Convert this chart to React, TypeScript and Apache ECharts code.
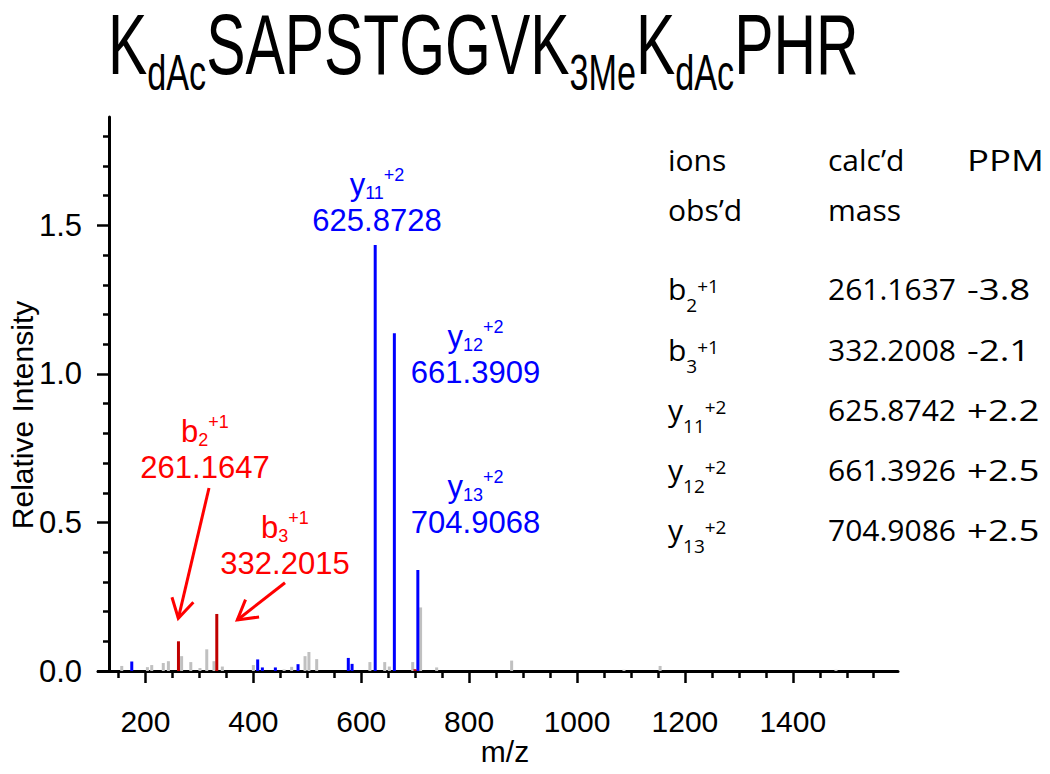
import React, { useEffect, useRef } from "react";
import * as echarts from "echarts";

// ---- data ----
const grayPeaks: [number, number][] = [
  [156, 0.017], [203.6, 0.013], [211.6, 0.02], [233, 0.027], [242.5, 0.033],
  [267, 0.05], [284, 0.03], [301, 0.01], [313.6, 0.073], [327, 0.033],
  [342.5, 0.015], [400, 0.02], [457, 0.005], [471, 0.014], [495.8, 0.05],
  [503, 0.064], [517.4, 0.04], [616, 0.03], [643.5, 0.03], [652, 0.015],
  [695.4, 0.03], [710, 0.214], [739.8, 0.012], [878.8, 0.035], [1087, 0.004],
  [1154, 0.017], [1480, 0.004],
];
const bluePeaks: [number, number][] = [
  [174.6, 0.032], [408, 0.039], [416.7, 0.012], [440.8, 0.012], [482.8, 0.023],
  [576, 0.044], [583, 0.024], [625.87, 1.434], [661.39, 1.137], [704.91, 0.34],
];
const redPeaks: [number, number][] = [
  [261.16, 0.1], [332.2, 0.192], [699.6, 0.006],
];

const xMajorTicks = [200, 400, 600, 800, 1000, 1200, 1400];
const xMinorTicks = [150, 250, 300, 350, 450, 500, 550, 650, 700, 750, 850, 900, 950, 1050, 1100, 1150, 1250, 1300, 1350, 1450, 1500, 1550];
const yMajorTicks = [0, 0.5, 1.0, 1.5];
const yMinorTicks = [0.1, 0.2, 0.3, 0.4, 0.6, 0.7, 0.8, 0.9, 1.1, 1.2, 1.3, 1.4, 1.6, 1.7, 1.8];

// title pieces: text and whether it is a subscript
const titlePieces = ["K", "dAc", "SAPSTGGVK", "3Me", "K", "dAc", "PHR"];
const titleIsSub = [false, true, false, true, false, true, false];

const tableHeader1 = ["ions", "calc\u2019d", "PPM"];
const tableHeader2 = ["obs\u2019d", "mass", ""];
const tableIon = ["b", "b", "y", "y", "y"];
const tableIonSub = ["2", "3", "11", "12", "13"];
const tableIonSup = ["+1", "+1", "+2", "+2", "+2"];
const tableCalc = ["261.1637", "332.2008", "625.8742", "661.3926", "704.9086"];
const tablePpm = ["-3.8", "-2.1", "+2.2", "+2.5", "+2.5"];

const annIon = ["y", "y", "y", "b", "b"];
const annSub = ["11", "12", "13", "2", "3"];
const annSup = ["+2", "+2", "+2", "+1", "+1"];
const annMz = ["625.8728", "661.3909", "704.9068", "261.1647", "332.2015"];

const BLUE = "#0000ff";
const RED_TEXT = "#ff0000";
const RED_PEAK = "#c00000";
const GRAY = "#c0c0c0";
const ARIAL = "'Liberation Sans', Arial, Helvetica, sans-serif";
const CALIBRI = "'Open Sans', 'Noto Sans', sans-serif";

// annotation layout (pixel positions of label centres / baselines)
const annCx = [377, 475.5, 475.5, 205, 285];
const annBase = [231, 383, 533, 478, 574];
const annColor = [BLUE, BLUE, BLUE, RED_TEXT, RED_TEXT];

// table layout
const colX = [668, 828, 967];
const headBase = [171, 221];
const rowBase = [300, 361, 421, 481, 541];

function peakSeries(name: string, data: [number, number][], color: string, z: number) {
  return {
    type: "custom",
    name,
    z,
    data,
    encode: { x: 0, y: 1 },
    renderItem: (params: any, api: any) => {
      const x = api.value(0);
      const y = api.value(1);
      const top = api.coord([x, y]);
      const base = api.coord([x, 0]);
      const w = 3;
      return {
        type: "rect",
        shape: { x: top[0] - w / 2, y: top[1], width: w, height: base[1] - top[1] },
        style: { fill: color },
      };
    },
  };
}

function arrow(start: [number, number], tip: [number, number], color: string) {
  const dx = start[0] - tip[0];
  const dy = start[1] - tip[1];
  const len = Math.sqrt(dx * dx + dy * dy);
  const ux = dx / len, uy = dy / len;
  const L = 22, a = (30 * Math.PI) / 180;
  const rot = (ang: number) => [
    tip[0] + L * (ux * Math.cos(ang) - uy * Math.sin(ang)),
    tip[1] + L * (ux * Math.sin(ang) + uy * Math.cos(ang)),
  ];
  return [
    { type: "line", shape: { x1: start[0], y1: start[1], x2: tip[0], y2: tip[1] }, style: { stroke: color, lineWidth: 3 } },
    { type: "polyline", shape: { points: [rot(a), tip, rot(-a)] }, style: { stroke: color, lineWidth: 3, fill: null } },
  ];
}

function measure(text: string, size: number, family: string): number {
  const ctx = document.createElement("canvas").getContext("2d");
  if (!ctx) return text.length * size * 0.6;
  ctx.font = `${size}px ${family}`;
  return ctx.measureText(text).width;
}

export default function App() {
  const ref = useRef<HTMLDivElement>(null);
  useEffect(() => {
    if (!ref.current) return;
    const chart = echarts.init(ref.current, null, { renderer: "svg" });

    const graphics: any[] = [];
    // title, built piece by piece (main letters + subscripts), condensed look via vertical stretch
    const TSY = 1.46;
    let cx = 108;
    titlePieces.forEach((t, i) => {
      const size = titleIsSub[i] ? 34.2 : 58.9;
      graphics.push({
        type: "text",
        x: cx,
        y: titleIsSub[i] ? 72.5 : 44,
        scaleY: TSY,
        style: { text: t, fontSize: size, fontFamily: ARIAL, fill: "#000", align: "left", verticalAlign: "middle" },
      });
      cx += measure(t, size, ARIAL);
    });
    // axis names
    graphics.push({
      type: "text", x: 22, y: 415, rotation: Math.PI / 2,
      style: { text: "Relative Intensity", fontSize: 30, fontFamily: ARIAL, fill: "#000", align: "center", verticalAlign: "middle" },
    });
    graphics.push({
      type: "text", x: 505, y: 751,
      style: { text: "m/z", fontSize: 30, fontFamily: ARIAL, fill: "#000", align: "center", verticalAlign: "middle" },
    });
    // annotations
    for (let i = 0; i < annMz.length; i++) {
      const c = annColor[i];
      graphics.push({
        type: "text", x: annCx[i], y: annBase[i] - 36 - 10.8,
        style: {
          text: `{m|${annIon[i]}}{s|${annSub[i]}}{p|${annSup[i]}}`,
          align: "center", verticalAlign: "middle",
          rich: {
            m: { fontSize: 31, fontFamily: ARIAL, lineHeight: 40, fill: c },
            s: { fontSize: 18, fontFamily: ARIAL, lineHeight: 40, fill: c, padding: [17, 0, 0, 0] },
            p: { fontSize: 18, fontFamily: ARIAL, lineHeight: 40, fill: c, padding: [0, 0, 18, 0] },
          },
        },
      });
      graphics.push({
        type: "text", x: annCx[i], y: annBase[i] - 10.8,
        style: { text: annMz[i], fontSize: 31, fontFamily: ARIAL, fill: c, align: "center", verticalAlign: "middle" },
      });
    }
    graphics.push(...arrow([209, 488], [178.3, 618.3], RED_TEXT));
    graphics.push(...arrow([285, 582.7], [237.3, 620], RED_TEXT));
    // table
    const TF = 30;
    const tStyle = (t: string) => ({ text: t, fontSize: TF, fontFamily: CALIBRI, fill: "#000", align: "left", verticalAlign: "middle" });
    const PPM_SCALE = 1.22;
    [tableHeader1, tableHeader2].forEach((row, r) => {
      row.forEach((t, c) => {
        if (t) graphics.push({ type: "text", x: colX[c], y: headBase[r] - 11.5, scaleX: c === 2 ? PPM_SCALE : 1, style: tStyle(t) });
      });
    });
    for (let r = 0; r < tableCalc.length; r++) {
      const y = rowBase[r] - 11.5;
      graphics.push({
        type: "text", x: colX[0], y,
        style: {
          text: `{m|${tableIon[r]}}{s|${tableIonSub[r]}}{p|${tableIonSup[r]}}`,
          align: "left", verticalAlign: "middle",
          rich: {
            m: { fontSize: TF, fontFamily: CALIBRI, lineHeight: 40, fill: "#000" },
            s: { fontSize: 19, fontFamily: CALIBRI, lineHeight: 40, fill: "#000", padding: [32, 0, 0, 0] },
            p: { fontSize: 19, fontFamily: CALIBRI, lineHeight: 40, fill: "#000", padding: [0, 0, 6, 0] },
          },
        },
      });
      graphics.push({ type: "text", x: colX[1], y, style: tStyle(tableCalc[r]) });
      graphics.push({ type: "text", x: colX[2], y, scaleX: PPM_SCALE, style: tStyle(tablePpm[r]) });
    }

    const axisCommonX = { type: "value", min: 112, max: 1595, position: "bottom", splitLine: { show: false } };
    const axisCommonY = { type: "value", min: 0, max: 1.865, position: "left", offset: -11, splitLine: { show: false } };

    chart.setOption({
      animation: false,
      backgroundColor: "#fff",
      grid: { left: 98, right: 152, top: 117, bottom: 103, containLabel: false },
      xAxis: [
        {
          ...axisCommonX,
          axisLine: { show: true, onZero: false, lineStyle: { color: "#000", width: 3 } },
          axisTick: { show: true, customValues: xMajorTicks, length: 12, lineStyle: { color: "#000", width: 2.5 } },
          axisLabel: {
            show: true, customValues: xMajorTicks, fontSize: 30, lineHeight: 30, margin: 35, color: "#000", fontFamily: ARIAL,
            formatter: (v: number) => String(v),
          },
        },
        {
          ...axisCommonX,
          axisLine: { show: false, onZero: false },
          axisTick: { show: true, customValues: xMinorTicks, length: 7, lineStyle: { color: "#000", width: 2.5 } },
          axisLabel: { show: false },
        },
      ],
      yAxis: [
        {
          ...axisCommonY,
          axisLine: { show: true, onZero: false, lineStyle: { color: "#000", width: 3 } },
          axisTick: { show: true, customValues: yMajorTicks, length: 12, lineStyle: { color: "#000", width: 2.5 } },
          axisLabel: {
            show: true, customValues: yMajorTicks, fontSize: 31, margin: 27, color: "#000", fontFamily: ARIAL,
            formatter: (v: number) => v.toFixed(1),
          },
        },
        {
          ...axisCommonY,
          axisLine: { show: false, onZero: false },
          axisTick: { show: true, customValues: yMinorTicks, length: 6, lineStyle: { color: "#000", width: 2.5 } },
          axisLabel: { show: false },
        },
      ],
      series: [
        peakSeries("other", grayPeaks, GRAY, 2),
        peakSeries("y ions", bluePeaks, BLUE, 3),
        peakSeries("b ions", redPeaks, RED_PEAK, 3),
      ],
      graphic: graphics,
    });
    return () => chart.dispose();
  }, []);
  return <div ref={ref} style={{ position: "absolute", left: 0, top: 0, width: 1050, height: 774, background: "#fff" }} />;
}
